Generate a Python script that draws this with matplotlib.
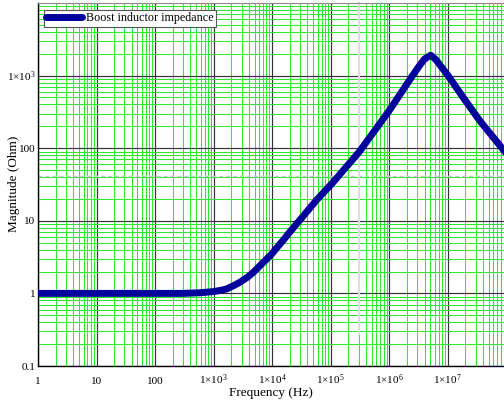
import numpy as np
import matplotlib
matplotlib.use('Agg')
import matplotlib.pyplot as plt
from matplotlib.ticker import FixedLocator, FixedFormatter, LogLocator, NullFormatter

# Values (frequency in Hz, magnitude in Ohm)
freq = [1, 10, 100, 300, 580, 1000, 1300, 1660, 2200, 2800, 3700, 4700,
        6000, 8000, 10000, 12000, 15300, 20000, 29600, 57000, 110000,
        310000, 1.0e6, 2.5e6, 3.3e6, 4.0e6, 5.1e6, 6.3e6, 7.7e6, 1.0e7,
        1.8e7, 3.5e7, 8.9e7, 1.1e8]
mag = [1.0, 1.0, 1.0, 1.0, 1.02, 1.06, 1.1, 1.15, 1.28, 1.42, 1.65, 1.93,
       2.35, 2.95, 3.55, 4.25, 5.35, 7.0, 10.2, 19.2, 34,
       90, 330, 1000, 1380, 1690, 1910, 1650, 1330, 1010,
       510, 240, 95, 75]

x_ticks = [1, 10, 100, 1e3, 1e4, 1e5, 1e6, 1e7]
x_labels = ['1', '10', '100', r'1$\times$10$^3$', r'1$\times$10$^4$',
            r'1$\times$10$^5$', r'1$\times$10$^6$', r'1$\times$10$^7$']
y_ticks = [0.1, 1, 10, 100, 1e3]
y_labels = ['0.1', '1', '10', '100', r'1$\times$10$^3$']

marker_freq = 3.0e5
marker_mag = 41

plt.rcParams['font.family'] = ['Liberation Serif', 'DejaVu Serif']
plt.rcParams['mathtext.fontset'] = 'custom'
plt.rcParams['mathtext.rm'] = 'Liberation Serif'
plt.rcParams['mathtext.it'] = 'Liberation Serif'

fig = plt.figure(figsize=(5.04, 4.11), dpi=100)
W, H = 504, 411
ax = fig.add_axes([38 / W, 1 - 366 / H, (504 - 38) / W, (366 - 3) / H])

ax.set_xscale('log')
ax.set_yscale('log')
ax.set_xlim(1, 10 ** 7.96)
ax.set_ylim(0.1, 1e4)

# grid: green minor, black major
ax.xaxis.set_minor_locator(LogLocator(base=10, subs=np.arange(2, 10), numticks=20))
ax.yaxis.set_minor_locator(LogLocator(base=10, subs=np.arange(2, 10), numticks=20))
ax.xaxis.set_minor_formatter(NullFormatter())
ax.yaxis.set_minor_formatter(NullFormatter())
ax.grid(True, which='minor', color='#2ee82e', linewidth=0.75)
ax.grid(True, which='major', color='#333333', linewidth=0.85)
ax.set_axisbelow(True)

ax.xaxis.set_major_locator(FixedLocator(x_ticks))
ax.xaxis.set_major_formatter(FixedFormatter(x_labels))
ax.yaxis.set_major_locator(FixedLocator(y_ticks))
ax.yaxis.set_major_formatter(FixedFormatter(y_labels))
ax.tick_params(which='both', length=0, labelsize=8)
ax.tick_params(axis='x', pad=13)
ax.tick_params(axis='y', pad=2)
for lab in ax.get_xticklabels():
    lab.set_verticalalignment('baseline')

for s in ['left', 'bottom']:
    ax.spines[s].set_color('black')
    ax.spines[s].set_linewidth(1)
ax.spines['top'].set_color('#888888')
ax.spines['top'].set_linewidth(0.8)
ax.spines['right'].set_visible(False)

# marker lines
ax.axhline(marker_mag, color='#c8c8c8', linestyle=(0, (3, 2)), linewidth=1, zorder=1.5)
ax.plot([marker_freq, marker_freq], [10 ** -0.56, 1e4], color='#dddddd',
        linewidth=1.5, clip_on=False, zorder=1.5)

ax.plot(freq, mag, color='#00009c', linewidth=5, solid_capstyle='round',
        solid_joinstyle='round', label='Boost inductor impedance', zorder=3)

leg = ax.legend(loc='upper left', bbox_to_anchor=(0.013, 0.981), fontsize=8.7,
                frameon=True, fancybox=False, borderpad=0.2, handlelength=2.9,
                handletextpad=0.4, borderaxespad=0)
leg.get_frame().set_edgecolor('#555555')
leg.get_frame().set_linewidth(0.8)
leg.get_frame().set_alpha(1)

ax.set_xlabel('Frequency (Hz)', fontsize=9.5, labelpad=0)
fig.text(14 / W, 1 - 184 / H, 'Magnitude (Ohm)', rotation=90, fontsize=9.5,
         ha='center', va='center')

fig.savefig('out.png', dpi=100)
